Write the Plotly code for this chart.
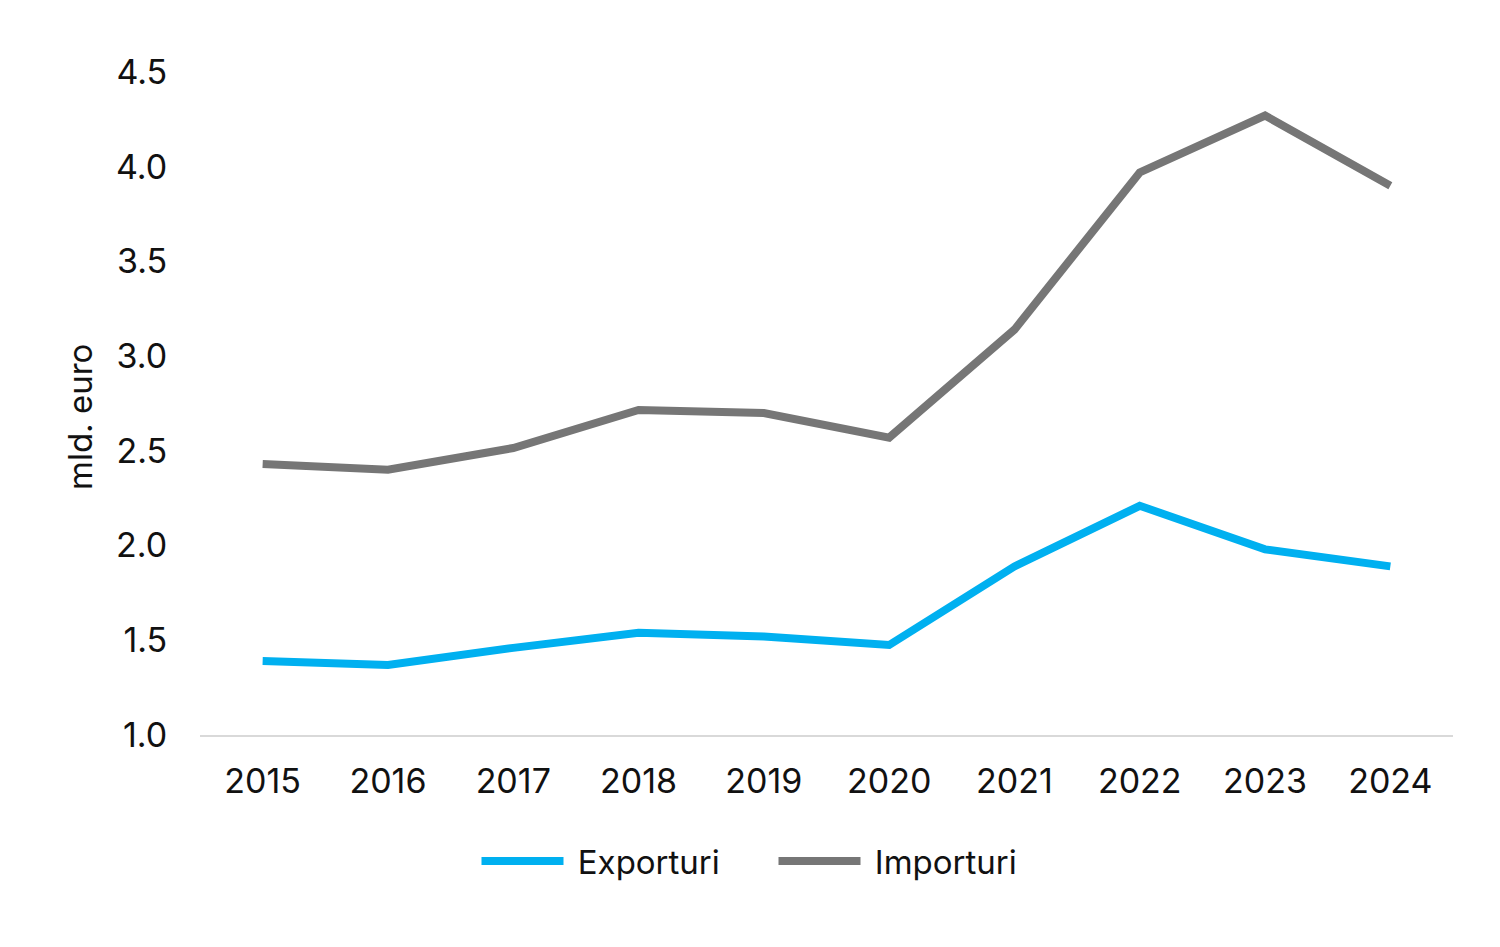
import plotly.graph_objects as go

years = ["2015", "2016", "2017", "2018", "2019", "2020", "2021", "2022", "2023", "2024"]
exporturi = [1.39, 1.37, 1.46, 1.54, 1.52, 1.475, 1.89, 2.21, 1.98, 1.89]
importuri = [2.43, 2.40, 2.515, 2.716, 2.70, 2.57, 3.14, 3.97, 4.27, 3.90]
y_ticks = [1.0, 1.5, 2.0, 2.5, 3.0, 3.5, 4.0, 4.5]

FONT = "Inter, Roboto, sans-serif"
NB = "\u00a0"

fig = go.Figure()
fig.add_trace(go.Scatter(x=years, y=exporturi, name=NB + "Exporturi", mode="lines",
                         line=dict(color="#00B0F0", width=8)))
fig.add_trace(go.Scatter(x=years, y=importuri, name=NB + "Importuri", mode="lines",
                         line=dict(color="#767676", width=8)))

fig.update_layout(
    width=1500, height=947,
    paper_bgcolor="white", plot_bgcolor="white",
    margin=dict(l=192, r=55, t=64, b=220),
    font=dict(family=FONT, size=33, color="#111111"),
    xaxis=dict(type="category", range=[-0.5, 9.5], showgrid=False,
               showline=True, linecolor="#d9d9d9", linewidth=2,
               ticks="outside", ticklen=15, tickcolor="white",
               tickfont=dict(size=34), automargin=False),
    yaxis=dict(range=[1.0, 4.5], tickvals=y_ticks,
               ticktext=[f"{v:.1f}" for v in y_ticks],
               showgrid=False, zeroline=False, showline=False,
               ticks="outside", ticklen=25, tickcolor="white",
               tickfont=dict(size=34), automargin=False),
    annotations=[dict(text="mld. euro", textangle=-90, xref="paper", yref="paper",
                      x=(80 - 8 - 192) / 1253, y=(735 - 417) / 663,
                      xanchor="center", yanchor="middle", showarrow=False,
                      font=dict(size=33, family=FONT, color="#111111"))],
    showlegend=True,
    legend=dict(orientation="h", x=0.5 - 53 / 1253, xanchor="center", y=-0.19, yanchor="middle",
                font=dict(size=33), itemwidth=82, entrywidth=200, entrywidthmode="pixels",
                traceorder="normal"),
)

fig.write_html("out.html")
